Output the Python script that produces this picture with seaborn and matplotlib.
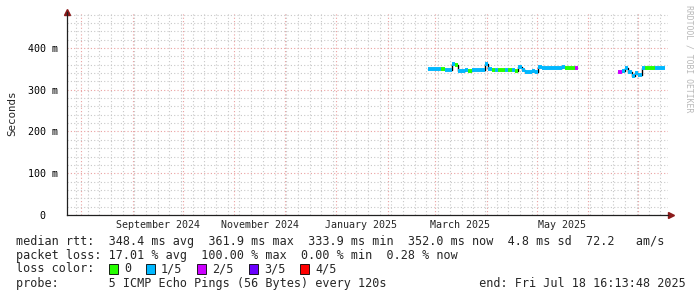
import numpy as np
import pandas as pd
import matplotlib
matplotlib.use("Agg")
import matplotlib.pyplot as plt
import matplotlib.dates as mdates
from matplotlib.patches import Rectangle
import seaborn as sns

# ---------------- data ----------------
seg1_dates = ['2025-02-25', '2025-02-27', '2025-03-01', '2025-03-03', '2025-03-05',
              '2025-03-07', '2025-03-09', '2025-03-11', '2025-03-13', '2025-03-15',
              '2025-03-17', '2025-03-19', '2025-03-21', '2025-03-23', '2025-03-25',
              '2025-03-27', '2025-03-29', '2025-03-31', '2025-04-02', '2025-04-04',
              '2025-04-06', '2025-04-08', '2025-04-10', '2025-04-12', '2025-04-14',
              '2025-04-16', '2025-04-18', '2025-04-20', '2025-04-22', '2025-04-24',
              '2025-04-26', '2025-04-28', '2025-04-30', '2025-05-02', '2025-05-04',
              '2025-05-06', '2025-05-08', '2025-05-10', '2025-05-12', '2025-05-14',
              '2025-05-16', '2025-05-18', '2025-05-20', '2025-05-22', '2025-05-24']
seg1_ms = [349.5, 349.0, 349.5, 349.0, 348.5,
           347.5, 347.0, 361.5, 359.0, 345.0,
           345.5, 346.0, 345.5, 346.0, 348.0,
           346.5, 346.0, 362.0, 348.5, 348.0,
           347.5, 347.5, 348.0, 347.0, 347.5,
           346.0, 345.0, 355.5, 347.0, 342.5,
           343.0, 345.5, 342.5, 353.5, 352.0,
           352.5, 351.0, 352.5, 353.0, 352.5,
           353.5, 352.0, 353.0, 352.5, 352.0]
seg1_loss = [1, 1, 1, 1, 0,
             1, 1, 1, 0, 1,
             1, 1, 0, 1, 1,
             1, 1, 1, 1, 0,
             1, 0, 0, 1, 0,
             1, 0, 1, 1, 1,
             1, 1, 1, 1, 1,
             1, 1, 1, 1, 1,
             1, 0, 0, 0, 2]

seg2_dates = ['2025-06-19', '2025-06-21', '2025-06-23', '2025-06-25', '2025-06-27',
              '2025-06-29', '2025-07-01', '2025-07-03', '2025-07-05', '2025-07-07',
              '2025-07-09', '2025-07-11', '2025-07-13', '2025-07-15']
seg2_ms = [342.0, 344.0, 352.0, 342.0, 333.0,
           340.0, 334.0, 353.0, 352.5, 352.5,
           352.0, 352.5, 352.5, 352.0]
seg2_loss = [2, 1, 1, 1, 1,
             1, 1, 1, 0, 0,
             0, 1, 1, 1]

loss_labels = ['0', '1/5', '2/5', '3/5', '4/5']
loss_colors = ['#26ff00', '#00b8ff', '#cc00ff', '#6a00ff', '#ff0000']

y_ticks = [0.0, 0.1, 0.2, 0.3, 0.4]
y_tick_labels = ['0  ', '100 m', '200 m', '300 m', '400 m']
x_labels = ['September 2024', 'November 2024', 'January 2025', 'March 2025', 'May 2025']
x_label_dates = ['2024-09-16', '2024-11-16', '2025-01-16', '2025-03-16', '2025-05-16']

t_start = pd.Timestamp('2024-07-23 16:13:48')
t_end = pd.Timestamp('2025-07-18 16:13:48')

legend_lines = [
    'median rtt:  348.4 ms avg  361.9 ms max  333.9 ms min  352.0 ms now  4.8 ms sd  72.2   am/s',
    'packet loss: 17.01 % avg  100.00 % max  0.00 % min  0.28 % now',
    'loss color:',
    'probe:       5 ICMP Echo Pings (56 Bytes) every 120s             end: Fri Jul 18 16:13:48 2025',
]

# ---------------- frame ----------------
df = pd.concat([
    pd.DataFrame({'date': pd.to_datetime(seg1_dates), 'rtt': np.array(seg1_ms) / 1000.0,
                  'loss': seg1_loss, 'seg': 1}),
    pd.DataFrame({'date': pd.to_datetime(seg2_dates), 'rtt': np.array(seg2_ms) / 1000.0,
                  'loss': seg2_loss, 'seg': 2}),
], ignore_index=True)

sns.set_theme(style='white')
plt.rcParams['font.family'] = ['DejaVu Sans Mono']
FS = 7.2        # axis font
FS_LEG = 8.5    # legend font

W, H = 697, 297
fig = plt.figure(figsize=(W / 100, H / 100), dpi=100)
fig.patch.set_facecolor('white')
L, R, B, T = 67, 668, 215, 12
ax = fig.add_axes([L / W, 1 - B / H, (R - L) / W, (B - T) / H])
ax.set_facecolor('white')

# grid
ax.set_xlim(t_start, t_end)
ax.set_ylim(0, 0.486)
ax.xaxis.set_major_locator(mdates.MonthLocator())
ax.xaxis.set_minor_locator(mdates.WeekdayLocator(byweekday=mdates.MO))
ax.set_yticks(y_ticks)
ax.set_yticks(np.arange(0, 0.486, 0.02), minor=True)
ax.set_yticklabels(y_tick_labels)
ax.set_xticklabels([])
ax.grid(which='minor', color='#c8c8c8', linestyle=(0, (1, 2)), linewidth=0.8)
ax.grid(which='major', color='#eaa0a0', linestyle=(0, (1, 2)), linewidth=0.8)
ax.set_axisbelow(True)

# data: black step line + loss-coloured steps
sns.lineplot(data=df, x='date', y='rtt', units='seg', estimator=None,
             drawstyle='steps-post', color='black', linewidth=1.0, ax=ax, legend=False)
ax.hlines(df['rtt'], df['date'], df['date'] + pd.Timedelta(days=2),
          colors=[loss_colors[k] for k in df['loss']], linewidth=2.8, zorder=3)

# axes styling
for s in ['top', 'right']:
    ax.spines[s].set_visible(False)
for s in ['left', 'bottom']:
    ax.spines[s].set_color('#202020')
    ax.spines[s].set_linewidth(0.9)
ax.tick_params(axis='y', which='major', length=3, direction='inout', pad=5,
               labelsize=FS, color='#202020', labelcolor='black')
ax.tick_params(axis='y', which='minor', length=2, direction='inout', color='#606060')
ax.tick_params(axis='x', which='major', length=3, direction='inout', color='#e08080')
ax.tick_params(axis='x', which='minor', length=2, direction='inout', color='#909090')
ax.set_xlabel('')
ax.set_ylabel('Seconds', fontsize=7.8, labelpad=8)

# arrows
ax.plot([0], [1.0], marker='^', color='#8b1a1a', markersize=4, transform=ax.transAxes,
        clip_on=False)
ax.plot([1.005], [0], marker='>', color='#8b1a1a', markersize=4, transform=ax.transAxes,
        clip_on=False)

# x labels
trans = ax.get_xaxis_transform()
for d, lab in zip(x_label_dates, x_labels):
    ax.text(pd.Timestamp(d), -0.048, lab, transform=trans, ha='center', va='center',
            fontsize=FS)

# watermark
fig.text(689 / W, 1 - 5 / H, 'RRDTOOL / TOBI OETIKER', rotation=270, ha='center',
         va='top', fontsize=5.9, color='#b8b8b8')

# legend rows
row_y = [241, 255, 269, 283]
for yy, txt in zip(row_y, legend_lines):
    fig.text(16 / W, 1 - yy / H, txt, ha='left', va='center', fontsize=FS_LEG)

sw_x = [109, 146, 197, 249, 300]
for xx, lab, col in zip(sw_x, loss_labels, loss_colors):
    fig.patches.append(Rectangle((xx / W, 1 - 274 / H), 9 / W, 10 / H,
                                 transform=fig.transFigure, facecolor=col,
                                 edgecolor='black', linewidth=0.6))
    fig.text((xx + 15) / W, 1 - 269 / H, lab, ha='left', va='center', fontsize=FS_LEG)

fig.savefig('out.png', dpi=100, facecolor='white')
